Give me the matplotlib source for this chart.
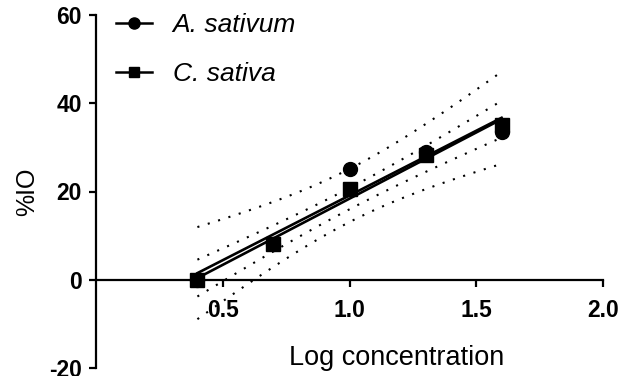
import numpy as np
import matplotlib
matplotlib.use('Agg')
import matplotlib.pyplot as plt

plt.rcParams['font.family'] = ['Liberation Sans', 'DejaVu Sans']
plt.rcParams['axes.unicode_minus'] = False

# ----- data -----
log_conc = np.array([0.4, 0.7, 1.0, 1.3, 1.6])
a_sativum = np.array([0.0, 8.0, 25.0, 29.0, 33.5])
c_sativa = np.array([0.0, 8.2, 20.5, 28.2, 35.0])
T_CRIT = 3.182   # 95% two-sided, df = 3

x_ticks = [0.5, 1.0, 1.5, 2.0]
y_ticks = [-20, 0, 20, 40, 60]


def fit_band(x, y, xs):
    slope, icpt = np.polyfit(x, y, 1)
    pred = slope * x + icpt
    s = np.sqrt(np.sum((y - pred) ** 2) / (len(x) - 2))
    sxx = np.sum((x - x.mean()) ** 2)
    fit = slope * xs + icpt
    half = T_CRIT * s * np.sqrt(1.0 / len(x) + (xs - x.mean()) ** 2 / sxx)
    return fit, fit - half, fit + half


fig = plt.figure(figsize=(6.24, 3.76), dpi=100)
ax = fig.add_axes([96 / 624, 8 / 376, 507 / 624, 353 / 376])

xs = np.linspace(log_conc.min(), log_conc.max(), 100)
dots = (0, (1, 4.2))
for y in (a_sativum, c_sativa):
    fit, lo, hi = fit_band(log_conc, y, xs)
    ax.plot(xs, fit, color='black', lw=1.9, zorder=3)
    ax.plot(xs, lo, color='black', lw=1.5, ls=dots, zorder=2)
    ax.plot(xs, hi, color='black', lw=1.5, ls=dots, zorder=2)

ax.plot(log_conc, a_sativum, 'o', color='black', ms=10, zorder=4)
ax.plot(log_conc, c_sativa, 's', color='black', ms=9.5, zorder=5)

# prism style axes
ax.set_xlim(0, 2.0)
ax.set_ylim(-20, 60)
ax.spines['top'].set_visible(False)
ax.spines['right'].set_visible(False)
ax.spines['bottom'].set_position(('data', 0))
ax.spines['bottom'].set_bounds(0, 2.0)
for sp in ('left', 'bottom'):
    ax.spines[sp].set_linewidth(1.6)
ax.set_xticks(x_ticks)
ax.set_xticklabels([f'{v:.1f}' for v in x_ticks])
ax.set_yticks(y_ticks)
ax.tick_params(axis='both', direction='out', length=5, width=1.6,
               labelsize=16.5)
ax.tick_params(axis='x', pad=9)
ax.tick_params(axis='y', pad=5)
for lab in ax.get_xticklabels() + ax.get_yticklabels():
    lab.set_fontweight('bold')

ax.set_ylabel('%IO', fontsize=18)
ax.yaxis.set_label_coords(-0.136, 0.5)
ax.yaxis.label.set_va('center')
ax.set_xlabel('Log concentration', fontsize=19.5)
ax.xaxis.set_label_coords(0.592, 0.028)
ax.xaxis.label.set_va('center')

# legend: marker on a short line, italic names
h1, = ax.plot([], [], '-o', color='black', ms=8, lw=1.8)
h2, = ax.plot([], [], '-s', color='black', ms=7.5, lw=1.8)
leg = ax.legend([h1, h2], ['A. sativum', 'C. sativa'], loc='upper left',
                bbox_to_anchor=(116 / 624, 1 - 13 / 376), bbox_transform=fig.transFigure,
                frameon=False, handlelength=1.35, handletextpad=0.8,
                labelspacing=0.95, prop={'style': 'italic', 'size': 19},
                borderaxespad=0, borderpad=0)

fig.savefig('out.png', dpi=100)
